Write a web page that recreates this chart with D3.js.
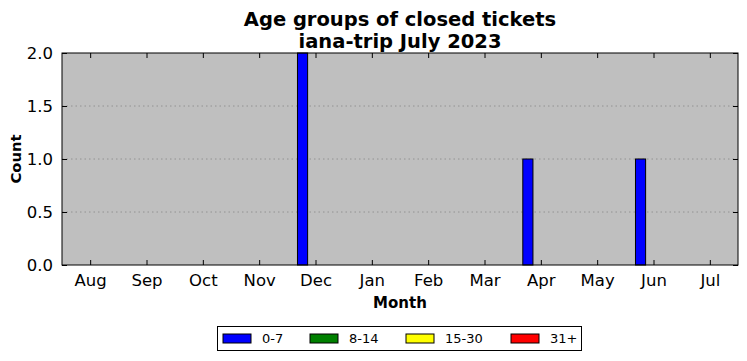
<!DOCTYPE html>
<html><head><meta charset="utf-8">
<script src="https://cdn.jsdelivr.net/npm/d3@7"></script>
<style>body{margin:0;background:#fff;} text{font-family:"DejaVu Sans",sans-serif;}</style>
</head><body>
<svg id="c" width="747" height="361"></svg>
<script>
const months = ["Aug","Sep","Oct","Nov","Dec","Jan","Feb","Mar","Apr","May","Jun","Jul"];
const seriesNames = ["0-7","8-14","15-30","31+"];
const seriesColors = ["#0000ff","#008000","#ffff00","#ff0000"];
const s0_7   = [0,0,0,0,2,0,0,0,1,0,1,0];
const s8_14  = [0,0,0,0,0,0,0,0,0,0,0,0];
const s15_30 = [0,0,0,0,0,0,0,0,0,0,0,0];
const s31p   = [0,0,0,0,0,0,0,0,0,0,0,0];
const series = [s0_7, s8_14, s15_30, s31p];
const yTicks = [0,0.5,1.0,1.5,2.0];

const svg = d3.select("#c");
const L=62,R=738,T=53,B=265;
const x = d3.scaleLinear().domain([-0.5, 11.5]).range([L,R]);
const y = d3.scaleLinear().domain([0,2]).range([B,T]);

svg.append("rect").attr("x",L).attr("y",T).attr("width",R-L).attr("height",B-T).attr("fill","#bfbfbf");

// grid
svg.append("g").selectAll("line").data(yTicks.slice(1,-1)).join("line")
  .attr("x1",L).attr("x2",R).attr("y1",d=>y(d)).attr("y2",d=>y(d))
  .attr("stroke","#888").attr("stroke-width",0.8).attr("stroke-dasharray","1.5,3");

// bars
const bw = 0.18;
series.forEach((vals,k)=>{
  svg.append("g").selectAll("rect").data(vals).join("rect")
    .attr("x",(d,i)=>x(i-0.32+k*bw))
    .attr("width",x(bw)-x(0))
    .attr("y",d=>y(d))
    .attr("height",d=>y(0)-y(d))
    .attr("fill",seriesColors[k]).attr("stroke","#000").attr("stroke-width",1);
});

// frame
svg.append("rect").attr("x",L).attr("y",T).attr("width",R-L).attr("height",B-T)
  .attr("fill","none").attr("stroke","#000").attr("stroke-width",1);

// axes
const xb = d3.axisBottom(x).tickValues(d3.range(12)).tickFormat(i=>months[i]).tickSizeInner(-5).tickSizeOuter(0).tickPadding(9);
const xt = d3.axisTop(x).tickValues(d3.range(12)).tickFormat("").tickSizeInner(-5).tickSizeOuter(0);
const yl = d3.axisLeft(y).tickValues(yTicks).tickFormat(d3.format(".1f")).tickSizeInner(-5).tickSizeOuter(0).tickPadding(9);
const yr = d3.axisRight(y).tickValues(yTicks).tickFormat("").tickSizeInner(-5).tickSizeOuter(0);
[[xb,`translate(0,${B})`],[xt,`translate(0,${T})`],[yl,`translate(${L},0)`],[yr,`translate(${R},0)`]].forEach(([a,t])=>{
  const g = svg.append("g").attr("transform",t).call(a);
  g.select(".domain").remove();
  g.selectAll("text").attr("font-size",16.5).attr("fill","#000").style("font-family","DejaVu Sans");
  g.selectAll("line").attr("stroke","#000");
});

// titles
svg.append("text").attr("x",400).attr("y",26).attr("text-anchor","middle").attr("font-size",19.5).attr("font-weight","bold").text("Age groups of closed tickets");
svg.append("text").attr("x",400).attr("y",48).attr("text-anchor","middle").attr("font-size",19.5).attr("font-weight","bold").text("iana-trip July 2023");
svg.append("text").attr("x",400).attr("y",308).attr("text-anchor","middle").attr("font-size",15).attr("font-weight","bold").text("Month");
svg.append("text").attr("transform","translate(21,159) rotate(-90)").attr("text-anchor","middle").attr("font-size",14.8).attr("font-weight","bold").text("Count");

// legend
const lg = svg.append("g");
lg.append("rect").attr("x",217.5).attr("y",326.5).attr("width",364).attr("height",24).attr("fill","#fff").attr("stroke","#000");
const lx = [223,310,406,511];
seriesNames.forEach((n,k)=>{
  lg.append("rect").attr("x",lx[k]).attr("y",334).attr("width",28).attr("height",9).attr("fill",seriesColors[k]).attr("stroke","#000");
  lg.append("text").attr("x",lx[k]+39).attr("y",343).attr("font-size",13).text(n);
});
</script>
</body></html>
